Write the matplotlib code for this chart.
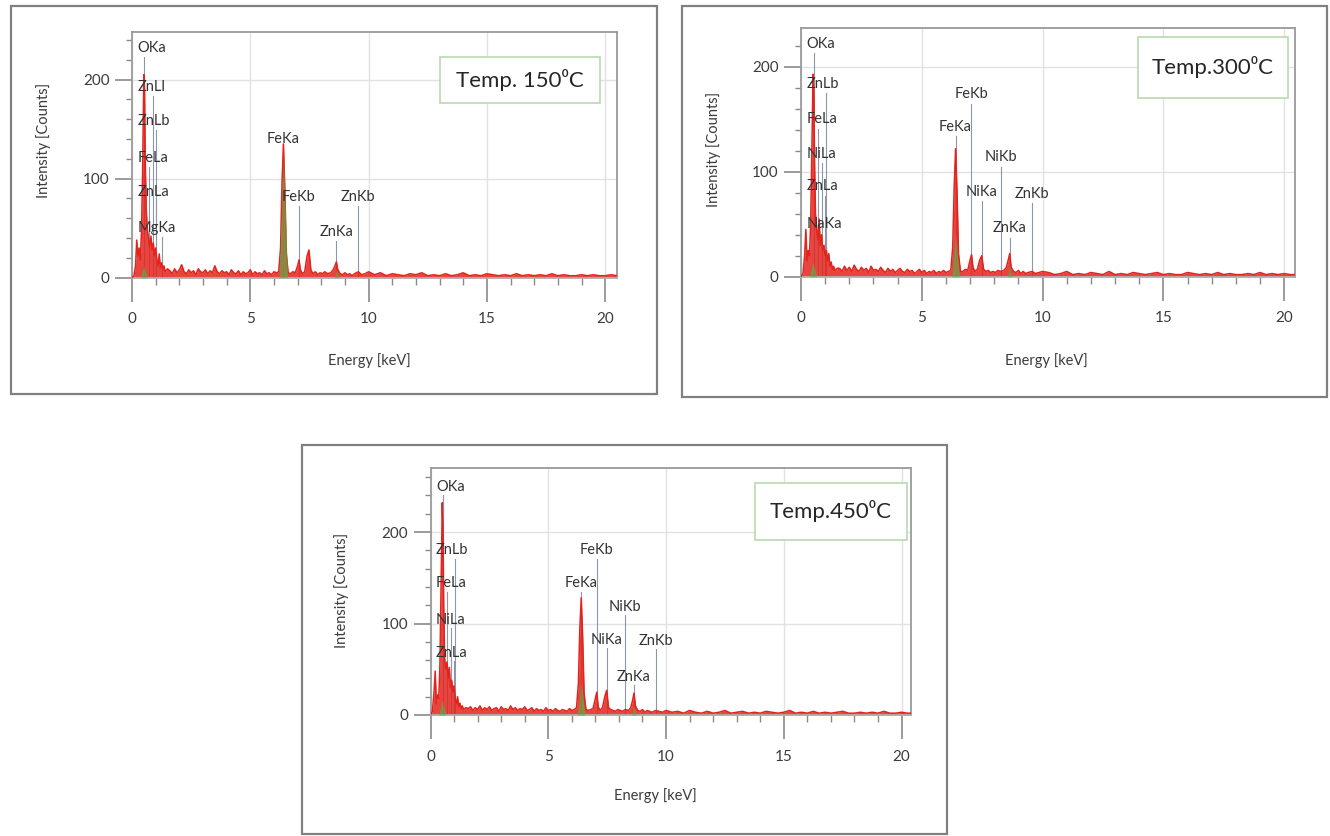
import matplotlib
matplotlib.use("Agg")
import matplotlib.pyplot as plt
from matplotlib.patches import Rectangle
from matplotlib.ticker import MultipleLocator

# ---------------- data ----------------
energy_kev = [
    0.00, 0.08, 0.15, 0.20, 0.25, 0.30, 0.35, 0.40, 0.45, 0.50, 0.53, 0.56, 0.60, 0.65, 0.70,
    0.75, 0.80, 0.85, 0.90, 0.95, 1.00, 1.05, 1.10, 1.15, 1.20, 1.25, 1.30, 1.35, 1.40, 1.50,
    1.60, 1.70, 1.80, 1.90, 2.00, 2.10, 2.20, 2.30, 2.40, 2.50, 2.60, 2.70, 2.80, 2.90, 3.00,
    3.10, 3.20, 3.30, 3.40, 3.50, 3.60, 3.70, 3.80, 3.90, 4.00, 4.10, 4.20, 4.30, 4.40, 4.50,
    4.60, 4.70, 4.80, 4.90, 5.00, 5.10, 5.20, 5.30, 5.40, 5.50, 5.60, 5.70, 5.80, 5.90, 6.00, 6.10,
    6.20, 6.28, 6.34, 6.40, 6.46, 6.52, 6.60,
    6.70, 6.80, 6.90, 7.00, 7.06, 7.12, 7.20, 7.30, 7.40, 7.48, 7.56, 7.65, 7.75, 7.85, 7.95,
    8.05, 8.15, 8.27, 8.40, 8.50, 8.58, 8.64, 8.70, 8.80, 8.90, 9.00, 9.10, 9.20, 9.30, 9.40,
    9.57, 9.70, 9.85, 10.00,
    10.25, 10.50, 10.75, 11.00, 11.25, 11.50, 11.75, 12.00, 12.25, 12.50, 12.75, 13.00, 13.25,
    13.50, 13.75, 14.00, 14.25, 14.50, 14.75, 15.00, 15.25, 15.50, 15.75, 16.00, 16.25, 16.50,
    16.75, 17.00, 17.25, 17.50, 17.75, 18.00, 18.25, 18.50, 18.75, 19.00, 19.25, 19.50, 19.75,
    20.00, 20.25, 20.50,
]

counts_150 = [
    0, 2, 12, 38, 22, 30, 18, 45, 110, 205, 190, 120, 70, 48, 40,
    30, 42, 28, 35, 22, 30, 18, 12, 24, 10, 15, 8, 12, 6, 9,
    7, 4, 9, 5, 8, 13, 6, 4, 8, 5, 7, 3, 9, 6, 5,
    8, 4, 7, 5, 12, 6, 4, 7, 5, 6, 3, 8, 5, 4, 7,
    3, 6, 4, 5, 8, 3, 6, 4, 5, 3, 7, 4, 5, 3, 6, 5,
    6, 30, 95, 135, 90, 25, 5,
    4, 6, 5, 12, 18, 8, 4, 6, 22, 28, 8, 4, 6, 3, 5,
    4, 6, 4, 5, 8, 12, 16, 8, 4, 3, 5, 3, 4, 2, 4,
    6, 3, 4, 6,
    3, 5, 2, 4, 3, 2, 4, 3, 5, 2, 3, 2, 4, 2, 3, 5, 2, 3, 2, 4, 3,
    2, 3, 2, 4, 2, 3, 2, 3, 2, 4, 2, 3, 2, 2, 3, 2, 3, 2, 2, 3, 2,
]

counts_300 = [
    0, 3, 20, 45, 15, 25, 20, 50, 120, 193, 175, 110, 60, 45, 35,
    55, 30, 40, 25, 30, 20, 25, 15, 22, 10, 14, 7, 10, 6, 8,
    8, 5, 10, 6, 9, 5, 11, 7, 5, 9, 6, 8, 4, 10, 6,
    7, 5, 9, 6, 4, 8, 5, 7, 4, 6, 8, 5, 4, 7, 5,
    6, 3, 5, 7, 4, 6, 3, 5, 4, 6, 3, 5, 4, 6, 4, 5,
    6, 28, 85, 122, 80, 22, 5,
    5, 7, 6, 16, 21, 9, 5, 7, 16, 20, 7, 5, 6, 4, 5,
    4, 6, 5, 6, 9, 16, 22, 9, 5, 4, 6, 3, 5, 3, 4,
    5, 3, 4, 5,
    4, 2, 3, 5, 2, 3, 2, 4, 3, 2, 5, 2, 3, 2, 4, 3, 2, 3, 4, 2, 3,
    2, 2, 4, 3, 2, 3, 2, 4, 2, 3, 2, 2, 3, 2, 4, 2, 3, 2, 3, 2, 2,
]

counts_450 = [
    0, 4, 25, 48, 12, 22, 18, 55, 140, 232, 200, 120, 62, 50, 58,
    40, 52, 30, 38, 25, 32, 18, 12, 20, 9, 13, 7, 10, 6, 8,
    7, 9, 5, 8, 6, 10, 5, 8, 6, 9, 5, 7, 8, 4, 9,
    6, 7, 5, 10, 6, 8, 5, 7, 6, 9, 5, 6, 8, 4, 7,
    5, 6, 4, 8, 5, 6, 4, 7, 5, 4, 6, 5, 4, 7, 5, 6,
    8, 35, 95, 128, 85, 24, 6,
    5, 6, 7, 18, 25, 9, 5, 8, 20, 27, 8, 6, 5, 4, 6,
    5, 4, 6, 5, 8, 16, 24, 10, 5, 4, 6, 3, 5, 4, 3,
    5, 4, 3, 5,
    3, 4, 2, 5, 3, 2, 4, 2, 3, 5, 2, 3, 4, 2, 3, 2, 4, 3, 2, 3, 5,
    2, 3, 2, 4, 2, 3, 2, 3, 4, 2, 2, 3, 2, 3, 2, 4, 2, 2, 3, 2, 2,
]

# fitted (green) peak envelopes
fit_energy_150 = [0.35, 0.50, 0.65, 6.22, 6.40, 6.58, 8.55, 8.64, 8.73]
fit_counts_150 = [0, 12, 0, 0, 125, 0, 0, 8, 0]
fit_energy_300 = [0.35, 0.50, 0.65, 6.24, 6.40, 6.56, 8.55, 8.64, 8.73]
fit_counts_300 = [0, 14, 0, 0, 40, 0, 0, 10, 0]
fit_energy_450 = [0.35, 0.50, 0.65, 6.24, 6.40, 6.56, 8.55, 8.64, 8.73]
fit_counts_450 = [0, 16, 0, 0, 35, 0, 0, 10, 0]

lines_150 = ["OKa", "ZnLl", "ZnLb", "FeLa", "ZnLa", "MgKa", "FeKa", "FeKb", "ZnKa", "ZnKb"]
line_kev_150 = [0.525, 0.884, 1.034, 0.705, 1.012, 1.254, 6.398, 7.058, 8.638, 9.572]
lines_300 = ["OKa", "ZnLb", "FeLa", "NiLa", "ZnLa", "NaKa", "FeKb", "FeKa", "NiKb", "NiKa", "ZnKb", "ZnKa"]
line_kev_300 = [0.525, 1.034, 0.705, 0.851, 1.012, 1.041, 7.058, 6.398, 8.265, 7.478, 9.572, 8.638]
lines_450 = ["OKa", "ZnLb", "FeLa", "NiLa", "ZnLa", "FeKb", "FeKa", "NiKb", "NiKa", "ZnKb", "ZnKa"]
line_kev_450 = [0.525, 1.034, 0.705, 0.851, 1.012, 7.058, 6.398, 8.265, 7.478, 9.572, 8.638]

titles = ["Temp. 150\u2070C", "Temp.300\u2070C", "Temp.450\u2070C"]
x_ticks = [0, 5, 10, 15, 20]
y_ticks = [0, 100, 200]

# ---------------- layout ----------------
W, H = 1330, 836
FONT = ["Lato", "DejaVu Sans"]
plt.rcParams["font.family"] = FONT

# label heights (counts) for the peak labels
label_y_150 = [232, 192, 158, 121, 87, 50, 140, 81, 46, 81]
label_y_300 = [222, 184, 150, 117, 86, 50, 174, 143, 114, 81, 79, 46]
label_y_450 = [249, 180, 144, 104, 68, 180, 144, 118, 82, 81, 42]

panels = [
    dict(ax=(132, 32, 617, 277.7), ytop=248, xr=20.5, outer=(11, 6, 657, 394),
         box=(440, 57, 600, 103), counts=counts_150, fe=fit_energy_150, fc=fit_counts_150,
         lines=lines_150, lk=line_kev_150, ly=label_y_150, title=titles[0],
         ylab=(-0.168, 0.56), xlab=(0.49, -0.306)),
    dict(ax=(801, 28, 1295, 276.7), ytop=237, xr=20.45, outer=(682, 6, 1327, 397),
         box=(1138, 37, 1288, 98), counts=counts_300, fe=fit_energy_300, fc=fit_counts_300,
         lines=lines_300, lk=line_kev_300, ly=label_y_300, title=titles[1],
         ylab=(-0.162, 0.51), xlab=(0.496, -0.307)),
    dict(ax=(430.5, 468, 911, 715), ytop=270, xr=20.4, outer=(302, 445, 947, 834),
         box=(755, 483, 907, 540), counts=counts_450, fe=fit_energy_450, fc=fit_counts_450,
         lines=lines_450, lk=line_kev_450, ly=label_y_450, title=titles[2],
         ylab=(-0.17, 0.506), xlab=(0.469, -0.296)),
]

fig = plt.figure(figsize=(W / 100, H / 100), dpi=100)
fig.patch.set_facecolor("white")

RED = "#e3241d"
GREEN = "#4fb848"
FRAME = "#9a9a9a"
TXT = "#3c3c3c"


def frect(x0, y0, x1, y1):
    return (x0 / W, 1 - y1 / H, (x1 - x0) / W, (y1 - y0) / H)


for p in panels:
    # outer panel box
    ox0, oy0, ox1, oy1 = p["outer"]
    fig.patches.append(Rectangle(frect(ox0, oy0, ox1, oy1)[:2], (ox1 - ox0) / W, (oy1 - oy0) / H,
                                 transform=fig.transFigure, fill=False, edgecolor="#808080",
                                 linewidth=1.6, zorder=0))

    ax = fig.add_axes(frect(*p["ax"]))
    ax.set_xlim(0, p["xr"])
    ax.set_ylim(0, p["ytop"])
    ax.set_facecolor("white")

    for s in ax.spines.values():
        s.set_color(FRAME)
        s.set_linewidth(1.3)
    ax.spines["bottom"].set_color("#b0b0b0")

    ax.set_xticks(x_ticks)
    ax.set_yticks(y_ticks)
    ax.xaxis.set_minor_locator(MultipleLocator(1))
    ax.yaxis.set_minor_locator(MultipleLocator(20))
    ax.tick_params(axis="x", which="major", direction="out", length=17, width=1.2,
                   color="#8a8a8a", labelsize=11, labelcolor=TXT, pad=8)
    ax.tick_params(axis="x", which="minor", direction="out", length=5, width=1.0, color="#8a8a8a")
    ax.tick_params(axis="y", which="major", direction="out", length=12, width=1.2,
                   color="#8a8a8a", labelsize=11, labelcolor=TXT, pad=4)
    ax.tick_params(axis="y", which="minor", direction="out", length=4, width=1.0, color="#8a8a8a")

    ax.grid(True, which="major", color="#e2e2e2", linewidth=1.0)
    ax.set_axisbelow(True)

    ax.set_xlabel("Energy [keV]", fontsize=10.5, color=TXT)
    ax.set_ylabel("Intensity [Counts]", fontsize=10.5, color=TXT)
    ax.xaxis.set_label_coords(*p["xlab"])
    ax.yaxis.set_label_coords(*p["ylab"])

    # peak marker lines and labels
    for name, e, yl in zip(p["lines"], p["lk"], p["ly"]):
        ax.plot([e, e], [0, yl - 9], color="#8e97aa", linewidth=0.8, zorder=1)
        if e < 1.3:
            ax.annotate(name, xy=(0, yl), xytext=(4, 0), textcoords="offset points",
                        ha="left", va="center", fontsize=10.5, color="#333333", zorder=5)
        else:
            ax.text(e, yl, name, ha="center", va="center", fontsize=10.5,
                    color="#333333", zorder=5)

    # spectrum
    ax.fill_between(energy_kev, 0, p["counts"], color=RED, alpha=0.85, linewidth=0, zorder=2)
    ax.plot(energy_kev, p["counts"], color=RED, linewidth=1.1, zorder=3)
    ax.fill_between(p["fe"], 0, p["fc"], color=GREEN, alpha=0.6, linewidth=0, zorder=4)

    # temperature box
    bx0, by0, bx1, by1 = p["box"]
    fig.patches.append(Rectangle(frect(bx0, by0, bx1, by1)[:2], (bx1 - bx0) / W, (by1 - by0) / H,
                                 transform=fig.transFigure, facecolor="white",
                                 edgecolor="#b9d9ae", linewidth=1.2, zorder=10))
    fig.text(((bx0 + bx1) / 2) / W, 1 - ((by0 + by1) / 2) / H, p["title"], ha="center",
             va="center", fontsize=16, color="#262626", zorder=11)

fig.savefig("out.png", dpi=100)
